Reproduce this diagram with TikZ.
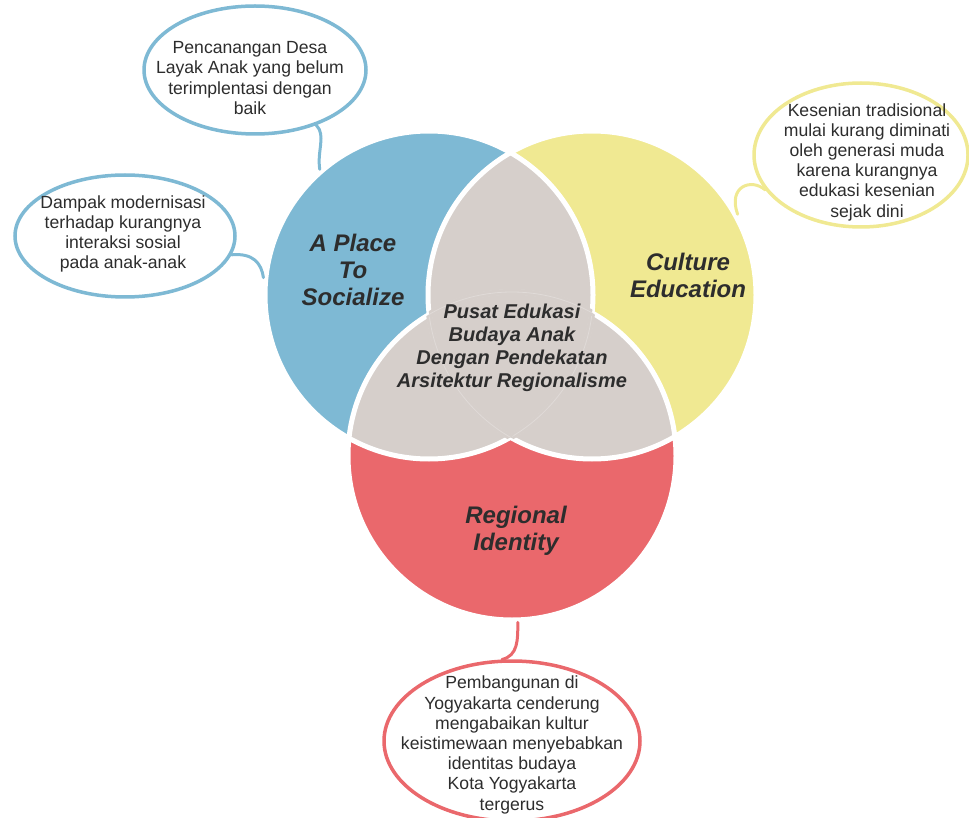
\documentclass[tikz,border=0pt]{standalone}
\usepackage{fontspec}
\setmainfont{Liberation Sans}
\usepackage{xcolor}
\usepackage{tikz}
\usetikzlibrary{shapes.geometric}

\definecolor{placeblue}{RGB}{126,185,212}
\definecolor{cultureyellow}{RGB}{240,233,146}
\definecolor{identityred}{RGB}{234,104,108}
\definecolor{overlapgrey}{RGB}{214,207,203}
\definecolor{inktext}{RGB}{45,45,45}

\begin{document}
\begin{tikzpicture}[
    x=1pt, y=1pt,
    venn/.style={circle, minimum size=328pt, inner sep=0pt, outer sep=2.5pt},
    bubble/.style={ellipse, draw=#1, line width=3.5pt, fill=white, inner sep=0pt},
    tail/.style={draw=#1, line width=3pt, line cap=round},
    rim/.style={white, line width=5pt},
    title/.style={font=\fontsize{24}{27}\selectfont\bfseries\itshape, text=inktext, align=center},
    core/.style={font=\fontsize{20}{23}\selectfont\bfseries\itshape, text=inktext, align=center},
    note/.style={font=\fontsize{17.6}{20.2}\selectfont, text=inktext, align=center}
]
\useasboundingbox (0,0) rectangle (969,-818);

\node[venn, fill=placeblue] (place) at (429,-295) {};
\node[venn, fill=cultureyellow] (culture) at (592,-295) {};
\node[venn, fill=identityred] (identity) at (512,-456) {};

\begin{scope}
  \clip (place.center) circle[radius=164pt];
  \fill[overlapgrey] (culture.center) circle[radius=164pt];
  \fill[overlapgrey] (identity.center) circle[radius=164pt];
\end{scope}
\begin{scope}
  \clip (culture.center) circle[radius=164pt];
  \fill[overlapgrey] (identity.center) circle[radius=164pt];
\end{scope}

\foreach \c in {place,culture,identity}
  \draw[rim] (\c.center) circle[radius=164pt];

\begin{scope}
  \clip (culture.center) circle[radius=164pt];
  \clip (identity.center) circle[radius=164pt];
  \draw[overlapgrey, line width=6pt] (place.center) circle[radius=164pt];
  \draw[overlapgrey!75!white, line width=0.8pt] (place.center) circle[radius=164pt];
\end{scope}
\begin{scope}
  \clip (place.center) circle[radius=164pt];
  \clip (identity.center) circle[radius=164pt];
  \draw[overlapgrey, line width=6pt] (culture.center) circle[radius=164pt];
  \draw[overlapgrey!75!white, line width=0.8pt] (culture.center) circle[radius=164pt];
\end{scope}
\begin{scope}
  \clip (place.center) circle[radius=164pt];
  \clip (culture.center) circle[radius=164pt];
  \draw[overlapgrey, line width=6pt] (identity.center) circle[radius=164pt];
  \draw[overlapgrey!75!white, line width=0.8pt] (identity.center) circle[radius=164pt];
\end{scope}

\node[bubble=placeblue, minimum width=222pt, minimum height=128pt] (desanote) at (255,-70) {};
\node[bubble=placeblue, minimum width=220pt, minimum height=122pt] (modernnote) at (125,-236) {};
\node[bubble=cultureyellow, minimum width=214pt, minimum height=144pt] (keseniannote) at (861,-155) {};
\node[bubble=identityred, minimum width=256pt, minimum height=160pt] (pembangunannote) at (512,-741) {};

\draw[tail=placeblue] (desanote.-42) .. controls +(10,-10) and +(-3,18) .. (place.131);
\draw[tail=placeblue] (modernnote.-10) .. controls +(22,2) and +(-2,14) .. (place.174);
\draw[tail=cultureyellow] (keseniannote.200) .. controls +(-14,12) and +(-10,28) .. (culture.29);
\draw[tail=identityred] (identity.-88) .. controls +(0,-18) and +(16,4) .. (pembangunannote.97);

\node[note] (desatext) at (250,-78) {Pencanangan Desa\\Layak Anak yang belum\\terimplentasi dengan\\baik};
\node[note] (moderntext) at (123,-234) {Dampak modernisasi\\terhadap kurangnya\\interaksi sosial\\pada anak-anak};
\node[note] (kesenianteks) at (867,-162) {Kesenian tradisional\\mulai kurang diminati\\oleh generasi muda\\karena kurangnya\\edukasi kesenian\\sejak dini};
\node[note] (pembangunantext) at (512,-745) {Pembangunan di\\Yogyakarta cenderung\\mengabaikan kultur\\keistimewaan menyebabkan\\identitas budaya\\Kota Yogyakarta\\tergerus};

\node[title] (placetitle) at (353,-270) {A Place\\To\\Socialize};
\node[title] (culturetitle) at (688,-275) {Culture\\Education};
\node[title] (identitytitle) at (516,-531) {Regional\\Identity};
\node[core] (coretitle) at (512,-348) {Pusat Edukasi\\Budaya Anak\\Dengan Pendekatan\\Arsitektur Regionalisme};
\end{tikzpicture}
\end{document}
